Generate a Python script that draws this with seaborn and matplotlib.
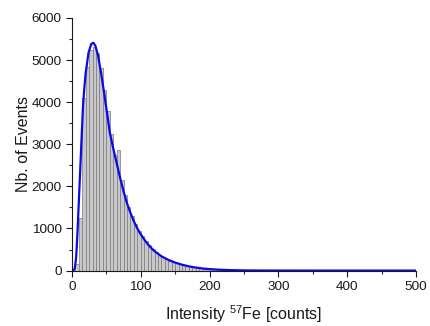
import numpy as np
import pandas as pd
import matplotlib
matplotlib.use("Agg")
import matplotlib.pyplot as plt
from matplotlib.ticker import MultipleLocator
import seaborn as sns

# histogram: left edge of each 5-count bin and number of events in it
bin_start = list(range(0, 250, 5))
bin_counts = [
    0, 150, 1260, 4095, 4845, 5240, 5320, 5170, 4800, 4300,
    3780, 3250, 2750, 2870, 2150, 1800, 1520, 1300, 1110, 950,
    820, 700, 600, 510, 440, 375, 320, 275, 235, 200,
    172, 148, 127, 108, 92, 78, 66, 56, 48, 41,
    35, 30, 25, 21, 18, 15, 12, 10, 8, 6,
]

# fitted curve
fit_x = [0, 2, 4, 6, 8, 10, 12, 14, 16, 18, 20, 24, 28, 31, 34, 38, 42, 46, 50,
         55, 60, 65, 70, 75, 80, 85, 90, 95, 100, 105, 110, 115, 120, 130, 140,
         150, 160, 170, 180, 190, 200, 215, 230, 250, 275, 300, 350, 500]
fit_y = [0, 0, 50, 300, 900, 1650, 2400, 3150, 3900, 4350, 4700, 5170, 5380,
         5410, 5340, 5100, 4720, 4300, 3850, 3280, 2900, 2550, 2200, 1880, 1600,
         1370, 1170, 1000, 860, 740, 630, 540, 460, 340, 255, 190, 140, 100, 72,
         50, 35, 20, 11, 5, 2, 1, 0, 0]

sns.set_style("ticks")
plt.rcParams["font.family"] = ["Liberation Sans", "DejaVu Sans"]
plt.rcParams["mathtext.default"] = "regular"

hist = pd.DataFrame({"x": np.array(bin_start) + 2.5, "n": bin_counts})
fit = pd.DataFrame({"x": fit_x, "y": fit_y})

fig = plt.figure(figsize=(4.31, 3.26), dpi=100)
ax = fig.add_axes([0.167, 0.17, 0.798, 0.775])

sns.histplot(data=hist, x="x", weights="n", binwidth=5, binrange=(0, 250),
             color="#c8c8c8", edgecolor="#7a7a7a", linewidth=0.5, alpha=1,
             ax=ax)
sns.lineplot(data=fit, x="x", y="y", color="#0a0ae6", linewidth=1.6, ax=ax)

ax.set_xlim(0, 500)
ax.set_ylim(0, 6000)
ax.xaxis.set_major_locator(MultipleLocator(100))
ax.xaxis.set_minor_locator(MultipleLocator(50))
ax.yaxis.set_major_locator(MultipleLocator(1000))
ax.yaxis.set_minor_locator(MultipleLocator(500))
ax.tick_params(which="major", length=4, width=0.8, labelsize=9.7, colors="#1a1a1a")
ax.tick_params(which="minor", length=2.5, width=0.8)
for s in ["left", "bottom"]:
    ax.spines[s].set_color("#1a1a1a")
    ax.spines[s].set_linewidth(0.8)
sns.despine(ax=ax)

ax.set_xlabel(r"Intensity $^{57}$Fe [counts]", fontsize=11.5, labelpad=7.5,
              color="#1a1a1a")
ax.set_ylabel("Nb. of Events", fontsize=11.5, labelpad=0, color="#1a1a1a")

fig.savefig("out.png", dpi=100)
